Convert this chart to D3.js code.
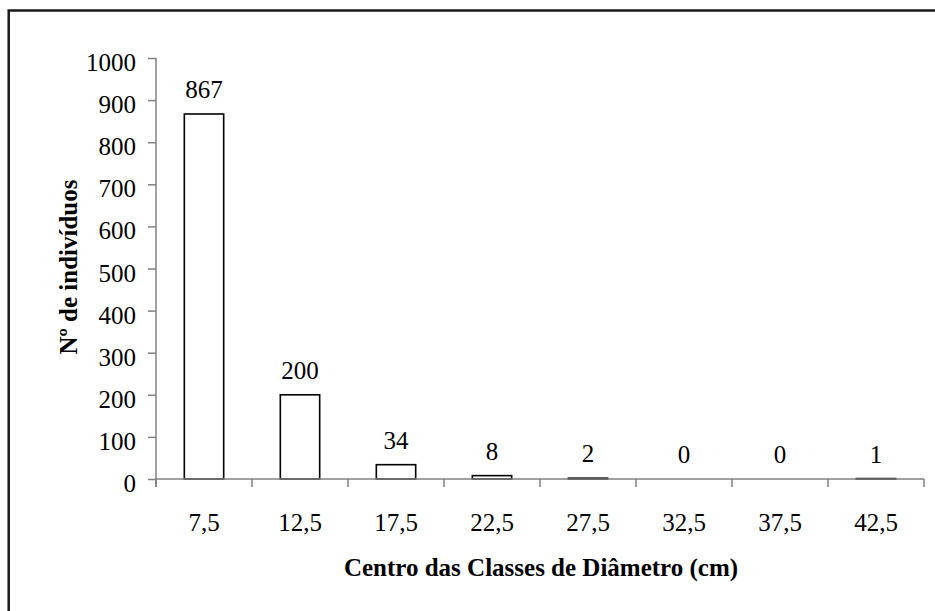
<!DOCTYPE html>
<html><head><meta charset="utf-8">
<script src="https://cdn.jsdelivr.net/npm/d3@7"></script>
<style>
body{margin:0;background:#fff}svg{display:block}
svg text{font-family:"Liberation Serif","DejaVu Serif","Times New Roman",serif !important;fill:#000}
</style>
</head><body>
<script>
const categories = ["7,5","12,5","17,5","22,5","27,5","32,5","37,5","42,5"];
const values = [867, 200, 34, 8, 2, 0, 0, 1];
const yTicks = [0,100,200,300,400,500,600,700,800,900,1000];

const W = 935, H = 611;
const svg = d3.select("body").append("svg").attr("width", W).attr("height", H);

// outer frame
svg.append("rect").attr("x", 8.7).attr("y", 10.5).attr("width", 1000).attr("height", 1000)
  .attr("fill", "none").attr("stroke", "#1a1a1a").attr("stroke-width", 2.5);

const x0 = 156, x1 = 924, yTop = 58, yBot = 479;
const x = d3.scaleBand().domain(categories).range([x0, x1]).padding(0);
const y = d3.scaleLinear().domain([0, 1000]).range([yBot, yTop]);
const barW = x.bandwidth() * 0.41;

// bars
svg.append("g").selectAll("rect").data(values).join("rect")
  .attr("x", (d, i) => x(categories[i]) + x.bandwidth()/2 - barW/2)
  .attr("y", d => y(d))
  .attr("width", barW)
  .attr("height", d => yBot - y(d))
  .attr("fill", "#fff").attr("stroke", "#000").attr("stroke-width", 1.6);

// y axis
const yAxis = svg.append("g").attr("transform", `translate(${x0},0)`)
  .call(d3.axisLeft(y).tickValues(yTicks).tickSize(8).tickPadding(12).tickFormat(d3.format("d")));
yAxis.select(".domain").attr("d", `M0,${yTop}V${yBot+8}`);

// x axis
const bounds = categories.map(c => x(c)).concat([x1]);
const xg = svg.append("g");
xg.append("line").attr("x1", x0).attr("x2", x1).attr("y1", yBot).attr("y2", yBot);
xg.selectAll("line.t").data(bounds).join("line").attr("class","t")
  .attr("x1", d => d).attr("x2", d => d).attr("y1", yBot).attr("y2", yBot + 8);
xg.selectAll("text").data(categories).join("text")
  .attr("x", d => x(d) + x.bandwidth()/2).attr("y", 531)
  .attr("text-anchor", "middle").text(d => d);

svg.selectAll(".domain, .tick line, g line").attr("stroke", "#808080").attr("stroke-width", 1.5);
svg.selectAll("text").style("font-size", "25px");
yAxis.selectAll(".tick text").attr("dy", "0.5em");

// data labels
svg.append("g").selectAll("text").data(values).join("text")
  .attr("x", (d, i) => x(categories[i]) + x.bandwidth()/2)
  .attr("y", d => y(d) - 16)
  .attr("text-anchor", "middle")
  .style("font-size", "25px")
  .text(d => d);

// titles
svg.append("text").attr("x", 541).attr("y", 576).attr("text-anchor", "middle")
  .style("font-size", "25px").style("font-weight", "bold")
  .text("Centro das Classes de Diâmetro (cm)");
svg.append("text").attr("transform", "translate(77,267) rotate(-90)").attr("text-anchor", "middle")
  .style("font-size", "25px").style("font-weight", "bold")
  .text("Nº de indivíduos");
</script>
</body></html>
